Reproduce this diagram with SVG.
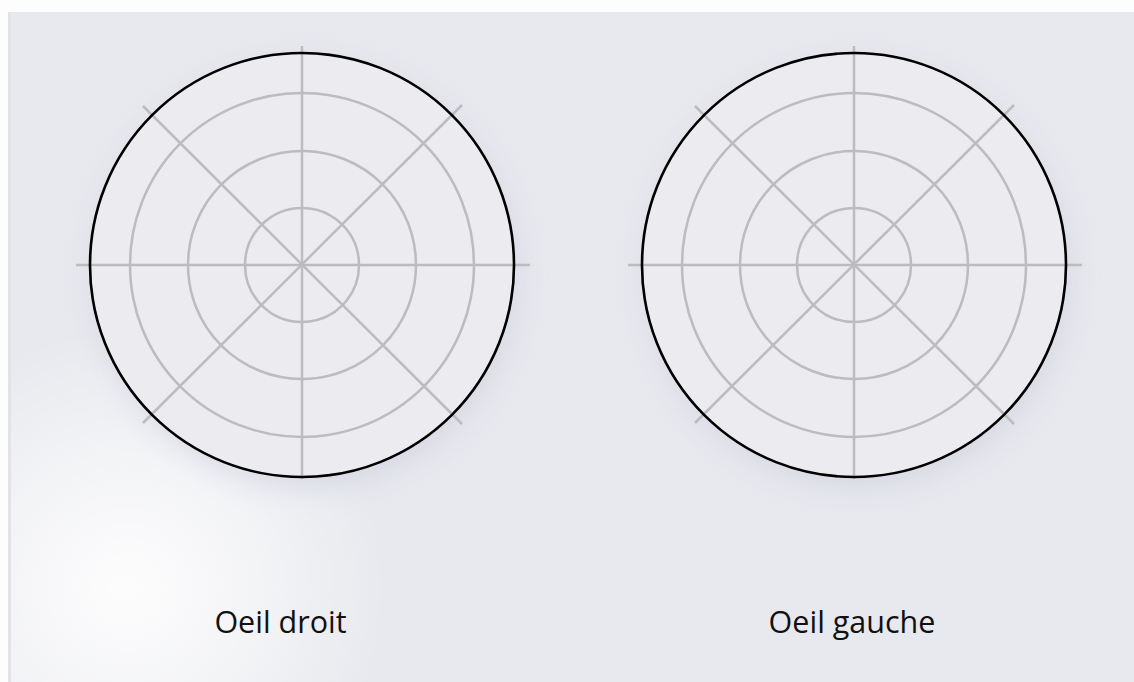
<svg xmlns="http://www.w3.org/2000/svg" width="1134" height="682" viewBox="0 0 1134 682">
<style>
.grid{fill:none;stroke:#bcbcbf;stroke-width:2.5}
.outer{fill:none;stroke:#000;stroke-width:2.6}
.lbl{font-family:"Open Sans","Noto Sans","Liberation Sans",sans-serif;font-size:30.5px;fill:#111;text-anchor:middle}
</style>
<defs>
<radialGradient id="glow" cx="127" cy="588" r="260" gradientUnits="userSpaceOnUse">
<stop offset="0" stop-color="#ffffff" stop-opacity="0.9"/>
<stop offset="0.45" stop-color="#ffffff" stop-opacity="0.55"/>
<stop offset="1" stop-color="#ffffff" stop-opacity="0"/>
</radialGradient>
<filter id="sh" x="-30%" y="-30%" width="160%" height="160%">
<feGaussianBlur stdDeviation="14"/>
</filter>
<g id="eye">
<circle cx="0" cy="0" r="57" class="grid"/>
<circle cx="0" cy="0" r="114" class="grid"/>
<circle cx="0" cy="0" r="172" class="grid"/>
<line x1="-226" y1="0" x2="228" y2="0" class="grid"/>
<line x1="0" y1="-219" x2="0" y2="214" class="grid"/>
<line x1="-159" y1="-159" x2="160" y2="159" class="grid"/>
<line x1="160" y1="-160" x2="-159" y2="158" class="grid"/>
<circle cx="0" cy="0" r="212" class="outer"/>
</g>
</defs>
<rect width="1134" height="682" fill="#fdfdfd"/>
<rect x="8" y="12" width="1126" height="670" fill="#e8e9ee"/>
<rect x="8" y="12" width="3" height="670" fill="#e2e3e7"/>
<rect x="11" y="12" width="1123" height="670" fill="url(#glow)"/>
<g id="shadows" opacity="0.55">
<circle cx="306" cy="275" r="212" fill="#c9cbdc" filter="url(#sh)"/>
<circle cx="858" cy="275" r="212" fill="#c9cbdc" filter="url(#sh)"/>
</g>
<g id="disc-left"><circle cx="302" cy="265" r="211" fill="#ebebf0"/></g>
<g id="disc-right"><circle cx="854" cy="265" r="211" fill="#ebebf0"/></g>
<g id="eye-right-node"><use href="#eye" x="302" y="265"/></g>
<g id="eye-left-node"><use href="#eye" x="854" y="265"/></g>
<g id="connectors"></g>
<g id="label-droit"><text x="280.5" y="633" class="lbl">Oeil droit</text></g>
<g id="label-gauche"><text x="852" y="633" class="lbl">Oeil gauche</text></g>
</svg>
